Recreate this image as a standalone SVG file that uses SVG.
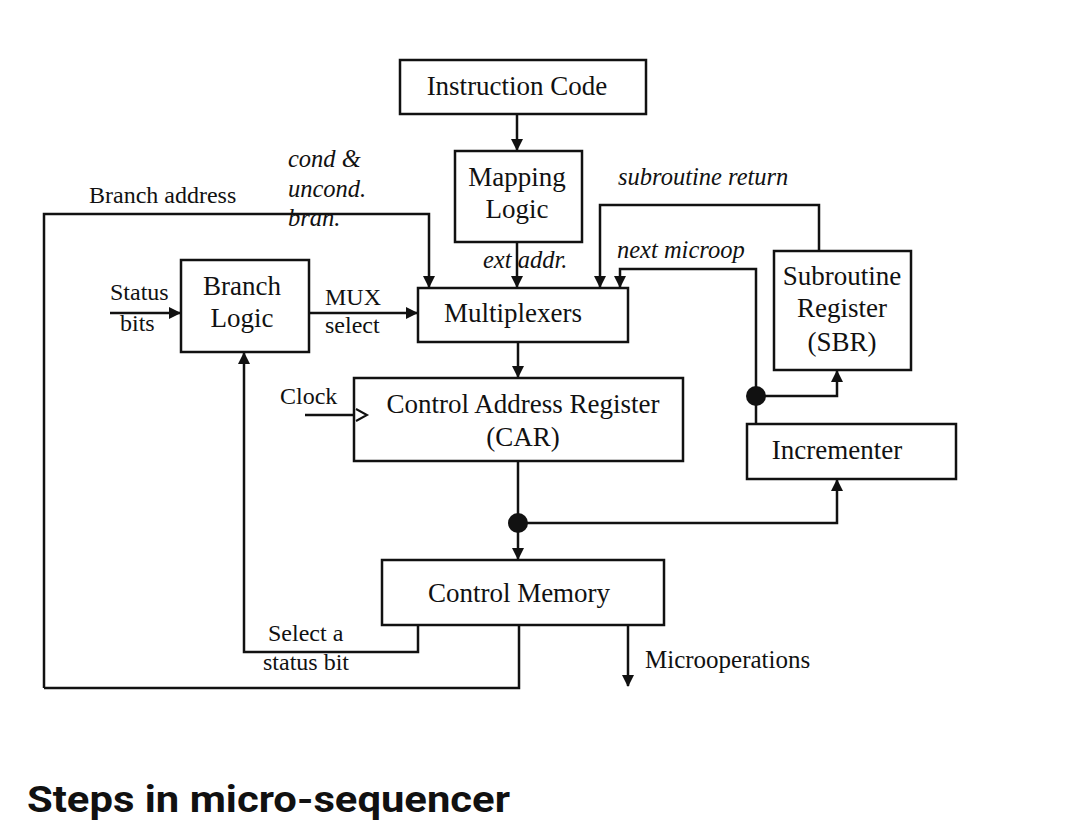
<svg xmlns="http://www.w3.org/2000/svg" width="1080" height="831" viewBox="0 0 1080 831">
<style>
.box{fill:#fff;stroke:#111;stroke-width:2.5}
.ln{fill:none;stroke:#111;stroke-width:2.5}
.t{font-family:"Liberation Serif","Times New Roman",serif;font-size:27px;fill:#111}
.s{font-family:"Liberation Serif","Times New Roman",serif;font-size:24px;fill:#111}
.i{font-family:"Liberation Serif","Times New Roman",serif;font-size:24.5px;font-style:italic;fill:#111}
.c{text-anchor:middle}
.dot{fill:#111}
</style>
<defs>
<marker id="ah" markerWidth="12" markerHeight="12" refX="11" refY="6" orient="auto" markerUnits="userSpaceOnUse">
<path d="M0,0 L12,6 L0,12 Z" fill="#111"/>
</marker>
</defs>
<rect width="1080" height="831" fill="#fff"/>
<g id="connectors">
<path class="ln" d="M517,114 V150" marker-end="url(#ah)"/>
<path class="ln" d="M517,242 V287" marker-end="url(#ah)"/>
<path class="ln" d="M44,688 V214 H429 V287" marker-end="url(#ah)"/>
<path class="ln" d="M110,313 H180" marker-end="url(#ah)"/>
<path class="ln" d="M309,313 H417" marker-end="url(#ah)"/>
<path class="ln" d="M819,251 V205 H600 V287" marker-end="url(#ah)"/>
<path class="ln" d="M756,424 V269 H620 V287" marker-end="url(#ah)"/>
<path class="ln" d="M756,396 H837 V371" marker-end="url(#ah)"/>
<path class="ln" d="M518,342 V377" marker-end="url(#ah)"/>
<path class="ln" d="M305,415 H354"/>
<path class="ln" d="M518,461 V559" marker-end="url(#ah)"/>
<path class="ln" d="M518,523 H837 V480" marker-end="url(#ah)"/>
<path class="ln" d="M418,625 V652 H244 V353" marker-end="url(#ah)"/>
<path class="ln" d="M519,625 V688 H44"/>
<path class="ln" d="M628,625 V686" marker-end="url(#ah)"/>
<circle class="dot" cx="756" cy="396" r="10"/>
<circle class="dot" cx="518" cy="523" r="10"/>
</g>
<g id="instruction-code">
<rect class="box" x="400" y="60" width="246" height="54"/>
<text class="t c" x="517" y="95">Instruction Code</text>
</g>
<g id="mapping-logic">
<rect class="box" x="455" y="151" width="127" height="91"/>
<text class="t c" x="517" y="186">Mapping</text>
<text class="t c" x="517" y="218">Logic</text>
</g>
<g id="multiplexers">
<rect class="box" x="418" y="288" width="210" height="54"/>
<text class="t c" x="513" y="322">Multiplexers</text>
</g>
<g id="branch-logic">
<rect class="box" x="181" y="260" width="128" height="92"/>
<text class="t c" x="242" y="295">Branch</text>
<text class="t c" x="242" y="327">Logic</text>
</g>
<g id="sbr">
<rect class="box" x="774" y="251" width="137" height="119"/>
<text class="t c" x="842" y="285">Subroutine</text>
<text class="t c" x="842" y="317">Register</text>
<text class="t c" x="842" y="351">(SBR)</text>
</g>
<g id="car">
<rect class="box" x="354" y="378" width="329" height="83"/>
<path class="ln" d="M356,409 L367,415 L356,421" style="stroke-width:2"/>
<text class="t c" x="523" y="413">Control Address Register</text>
<text class="t c" x="523" y="446">(CAR)</text>
</g>
<g id="incrementer">
<rect class="box" x="747" y="424" width="209" height="55"/>
<text class="t c" x="837" y="459">Incrementer</text>
</g>
<g id="control-memory">
<rect class="box" x="382" y="560" width="282" height="65"/>
<text class="t c" x="519" y="602">Control Memory</text>
</g>
<g id="labels">
<text class="s" x="89" y="203">Branch address</text>
<text class="i" x="288" y="167">cond &amp;</text>
<text class="i" x="288" y="197">uncond.</text>
<text class="i" x="288" y="226">bran.</text>
<text class="s" x="110" y="300">Status</text>
<text class="s" x="120" y="331">bits</text>
<text class="s" x="325" y="305">MUX</text>
<text class="s" x="325" y="333">select</text>
<text class="i" x="483" y="268">ext addr.</text>
<text class="i" x="618" y="185">subroutine return</text>
<text class="i" x="617" y="258">next microop</text>
<text class="s" x="280" y="404">Clock</text>
<text class="s" x="268" y="641">Select a</text>
<text class="s" x="263" y="670">status bit</text>
<text class="s" x="645" y="668" style="font-size:25px">Microoperations</text>
<text x="27" y="812" textLength="483" lengthAdjust="spacingAndGlyphs" style="font-family:Roboto,'Liberation Sans',sans-serif;font-weight:bold;font-size:36px;fill:#111">Steps in micro-sequencer</text>
</g>
</svg>
